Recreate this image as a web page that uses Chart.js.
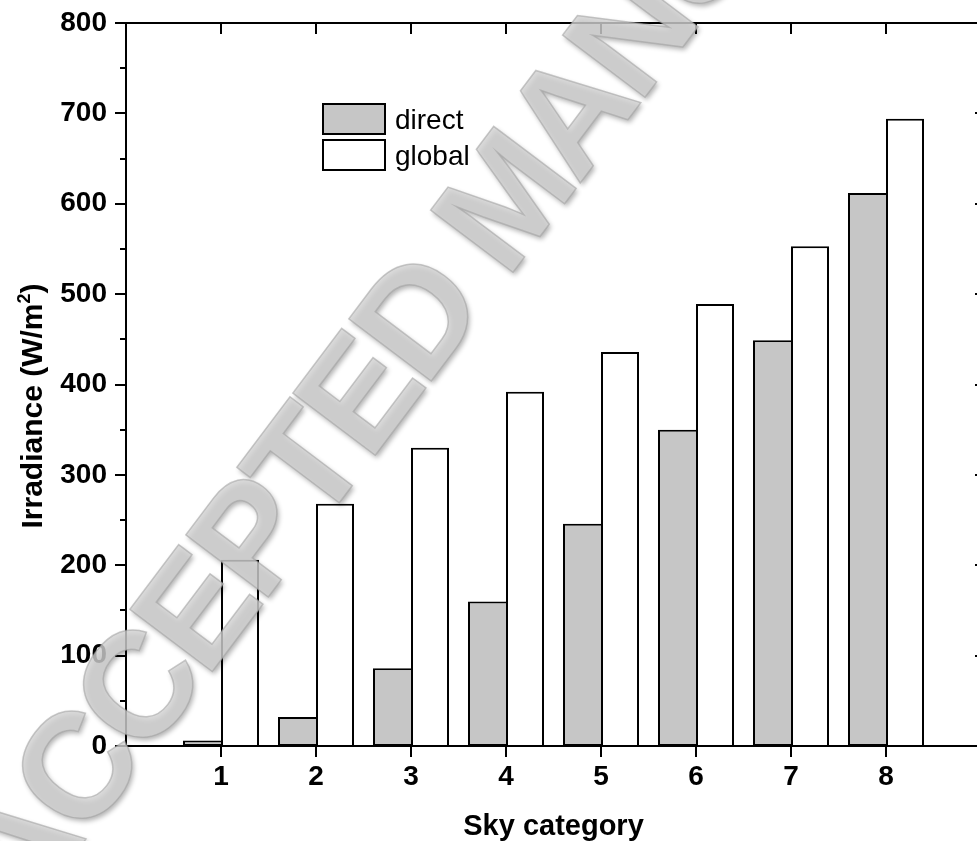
<!DOCTYPE html>
<html>
<head>
<meta charset="utf-8">
<script src="https://cdn.jsdelivr.net/npm/chart.js@4/dist/chart.umd.min.js"></script>
<style>
  html, body { margin: 0; padding: 0; background: #fff; overflow: hidden; width: 977px; height: 841px; }
  #wrap { position: absolute; left: 0; top: 0; width: 990px; height: 841px; }
  canvas { display: block; }
</style>
</head>
<body>
<div id="wrap"><canvas id="chart" width="990" height="841"></canvas></div>
<script>
// Sky categories and mean irradiance per category (W/m²)
const categories = ['1', '2', '3', '4', '5', '6', '7', '8'];
const directValues = [6, 32, 86, 160, 246, 350, 449, 612];
const globalValues = [206, 268, 330, 392, 436, 489, 553, 694];
const seriesNames = ['direct', 'global'];
const yTitle = 'Irradiance (W/m';
const yTitleSup = '2';
const xTitle = 'Sky category';
const stampText = 'ACCEPTED MANUSCRIPT';

const FONT = '"Liberation Sans", Arial, sans-serif';

// categories sit at 1..n on a linear axis running from 0 to n+1
const toPoints = vals => vals.map((v, i) => ({ x: i + 1, y: v }));

// the plot box is placed by the layout padding alone
const noEdgePadding = s => {
  s.paddingTop = 0; s.paddingBottom = 0; s.paddingLeft = 0; s.paddingRight = 0;
};

// box frame: left/bottom ticks point outward, top/right ticks point inward
const frame = {
  id: 'frame',
  afterDatasetsDraw(chart) {
    const { ctx, chartArea: a, scales: { x, y } } = chart;
    ctx.save();
    ctx.strokeStyle = '#000';
    ctx.lineWidth = 2;
    ctx.beginPath();
    ctx.rect(a.left, a.top, a.right - a.left, a.bottom - a.top);
    const yv = y.ticks.map(t => t.value);
    yv.forEach((v, i) => {
      const py = Math.round(y.getPixelForValue(v));
      ctx.moveTo(a.left - 11, py); ctx.lineTo(a.left, py);
      ctx.moveTo(a.right - 6, py); ctx.lineTo(a.right, py);
      if (i < yv.length - 1) {
        const pm = Math.round(y.getPixelForValue((v + yv[i + 1]) / 2));
        ctx.moveTo(a.left - 6, pm); ctx.lineTo(a.left, pm);
      }
    });
    categories.forEach((c, i) => {
      const px = Math.round(x.getPixelForValue(i + 1));
      ctx.moveTo(px, a.bottom); ctx.lineTo(px, a.bottom + 11);
      ctx.moveTo(px, a.top); ctx.lineTo(px, a.top + 11);
    });
    ctx.stroke();
    ctx.restore();
  }
};

// legend boxes inside the plot
const keyBox = {
  id: 'keyBox',
  afterDatasetsDraw(chart) {
    const ctx = chart.ctx;
    const left = 322, top = 103, w = 64, h = 32, gap = 4;
    ctx.save();
    chart.data.datasets.forEach((ds, i) => {
      const t = top + i * (h + gap);
      ctx.fillStyle = ds.backgroundColor;
      ctx.fillRect(left, t, w, h);
      ctx.strokeStyle = '#000';
      ctx.lineWidth = 2;
      ctx.strokeRect(left + 1, t + 1, w - 2, h - 2);
      ctx.fillStyle = '#000';
      ctx.font = '28px ' + FONT;
      ctx.textAlign = 'left';
      ctx.textBaseline = 'alphabetic';
      ctx.fillText(ds.label, left + w + 9, t + h / 2 + 10);
    });
    ctx.restore();
  }
};

// rotated y title with a superscript
const yLabel = {
  id: 'yLabel',
  afterDraw(chart) {
    const ctx = chart.ctx;
    ctx.save();
    ctx.translate(31, 406);
    ctx.rotate(-Math.PI / 2);
    ctx.fillStyle = '#000';
    ctx.textBaseline = 'alphabetic';
    ctx.textAlign = 'left';
    const big = 'bold 30px ' + FONT, small = 'bold 18px ' + FONT;
    ctx.font = big;
    const w1 = ctx.measureText(yTitle).width;
    const w3 = ctx.measureText(')').width;
    ctx.font = small;
    const w2 = ctx.measureText(yTitleSup).width;
    let x0 = -(w1 + w2 + w3) / 2;
    const base = 11;
    ctx.font = big; ctx.fillText(yTitle, x0, base); x0 += w1;
    ctx.font = small; ctx.fillText(yTitleSup, x0, base - 12); x0 += w2;
    ctx.font = big; ctx.fillText(')', x0, base);
    ctx.restore();
  }
};

// diagonal embossed stamp laid over the figure
const stamp = {
  id: 'stamp',
  afterDraw(chart) {
    const ctx = chart.ctx;
    ctx.save();
    ctx.translate(512, 205);
    ctx.rotate(-53 * Math.PI / 180);
    ctx.font = 'bold 150px ' + FONT;
    if ('letterSpacing' in ctx) ctx.letterSpacing = '-7px';
    ctx.textAlign = 'center';
    ctx.textBaseline = 'middle';
    ctx.shadowColor = 'rgba(0,0,0,0.38)';
    ctx.shadowBlur = 5;
    ctx.shadowOffsetX = 2;
    ctx.shadowOffsetY = 3;
    ctx.fillStyle = 'rgba(210,210,210,0.8)';
    ctx.fillText(stampText, 0, 0);
    ctx.shadowColor = 'rgba(0,0,0,0)';
    ctx.lineWidth = 1.5;
    ctx.strokeStyle = 'rgba(160,160,160,0.55)';
    ctx.strokeText(stampText, 0, 0);
    ctx.restore();
  }
};

new Chart(document.getElementById('chart'), {
  type: 'bar',
  data: {
    datasets: [
      {
        label: seriesNames[0],
        data: toPoints(directValues),
        backgroundColor: '#c6c6c6',
        borderColor: '#000',
        borderWidth: 2,
        borderSkipped: 'right'
      },
      {
        label: seriesNames[1],
        data: toPoints(globalValues),
        backgroundColor: '#ffffff',
        borderColor: '#000',
        borderWidth: 2
      }
    ]
  },
  options: {
    responsive: false,
    animation: false,
    devicePixelRatio: 1,
    categoryPercentage: 0.8,
    barPercentage: 1.0,
    layout: { padding: { left: 0, right: 9, top: 23, bottom: 0 } },
    plugins: { legend: { display: false }, tooltip: { enabled: false } },
    scales: {
      x: {
        type: 'linear',
        offset: false,
        min: 0,
        max: categories.length + 1,
        grid: { display: false, drawTicks: false },
        border: { display: false },
        ticks: {
          stepSize: 1,
          autoSkip: false,
          maxRotation: 0,
          padding: 14,
          color: '#000',
          font: { family: FONT, size: 28, weight: 'bold' },
          callback: v => (v >= 1 && v <= categories.length ? categories[v - 1] : '')
        },
        title: {
          display: true,
          text: xTitle,
          color: '#000',
          font: { family: FONT, size: 29, weight: 'bold', lineHeight: 1 },
          padding: { top: 0, bottom: 0 }
        },
        afterFit: s => { s.height = 95; noEdgePadding(s); }
      },
      y: {
        min: 0,
        max: 800,
        grid: { display: false, drawTicks: false },
        border: { display: false },
        ticks: {
          stepSize: 100,
          padding: 19,
          color: '#000',
          font: { family: FONT, size: 28, weight: 'bold' }
        },
        afterFit: s => { s.width = 126; noEdgePadding(s); }
      }
    }
  },
  plugins: [frame, keyBox, yLabel, stamp]
});
</script>
</body>
</html>
